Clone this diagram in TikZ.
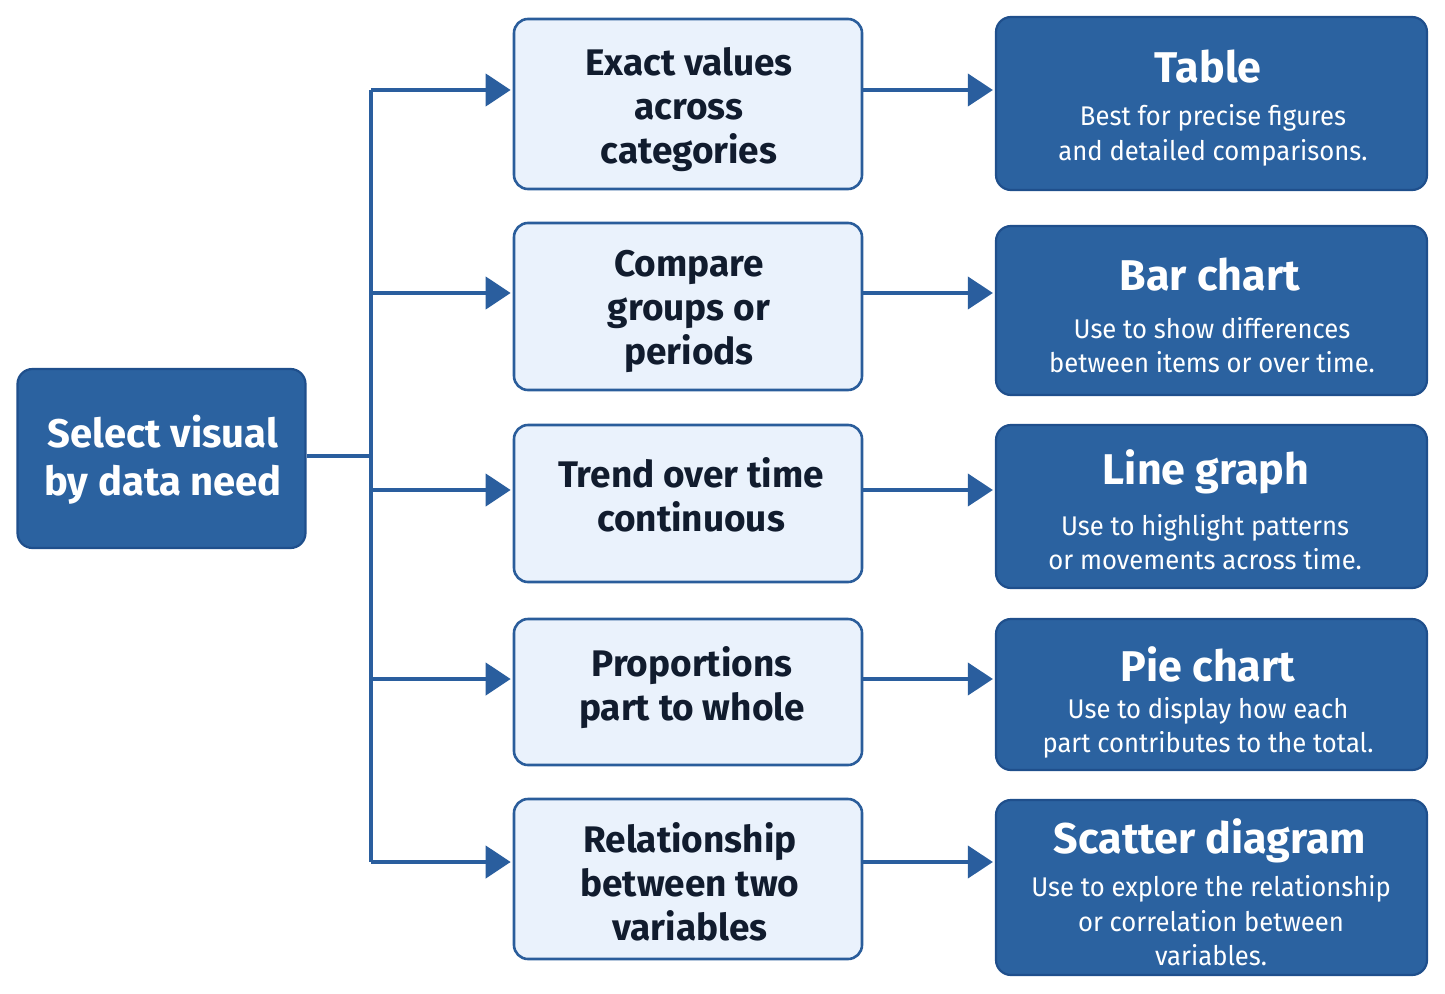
\documentclass[tikz,border=0pt]{standalone}
\usepackage{fontspec}
\setmainfont{Fira Sans}
\newfontfamily\subfont{Fira Sans}[FakeStretch=0.95]
\usetikzlibrary{arrows.meta}
\definecolor{darkfill}{HTML}{2B62A0}
\definecolor{darkedge}{HTML}{1F4F8C}
\definecolor{lightfill}{HTML}{EAF2FC}
\definecolor{lightedge}{HTML}{2A5D9B}
\definecolor{linkcol}{HTML}{2A5E9E}
\definecolor{inktext}{HTML}{111C2E}
\tikzset{
  darkbox/.style={draw=darkedge, line width=2.2pt, fill=darkfill, rounded corners=15pt, inner sep=0pt},
  lightbox/.style={draw=lightedge, line width=2.6pt, fill=lightfill, rounded corners=14pt, inner sep=0pt},
  midtext/.style={text=inktext, align=center, font=\fontsize{37}{44}\selectfont\bfseries, inner sep=0pt},
  lefttext/.style={text=white, align=center, font=\fontsize{40}{48}\selectfont\bfseries, inner sep=0pt},
  titletext/.style={text=white, align=center, font=\fontsize{43}{50}\selectfont\bfseries, inner sep=0pt},
  subtext/.style={text=white, align=center, font=\subfont\fontsize{27}{34.5}\selectfont, inner sep=0pt},
  link/.style={draw=linkcol, line width=4pt},
  arrowlink/.style={link, -{Triangle[length=25pt,width=32pt]}, shorten >=2pt}
}
\begin{document}
\begin{tikzpicture}[x=1pt,y=-1pt]
\useasboundingbox (0,0) rectangle (1445,993);

% left box
\node[darkbox, minimum width=288pt, minimum height=179pt] (src) at (161.5,458.5) {};
\node[lefttext] (srct) at (163,460) {Select visual\\by data need};

% trunk
\coordinate (jn) at (371,456);
\coordinate (ttop) at (371,90);
\coordinate (tbot) at (371,862);

% middle boxes
\node[lightbox, minimum width=348pt, minimum height=170pt] (m1) at (688,104) {};
\node[lightbox, minimum width=348pt, minimum height=167pt] (m2) at (688,306.5) {};
\node[lightbox, minimum width=348pt, minimum height=157pt] (m3) at (688,503.5) {};
\node[lightbox, minimum width=348pt, minimum height=146pt] (m4) at (688,692) {};
\node[lightbox, minimum width=348pt, minimum height=160pt] (m5) at (688,879) {};

\node[midtext] (m1t) at (689,110) {Exact values\\across\\categories};
\node[midtext] (m2t) at (689,311) {Compare\\groups or\\periods};
\node[midtext] (m3t) at (691,495) {Trend over time\\continuous};
\node[midtext] (m4t) at (692,688) {Proportions\\part to whole};
\node[midtext] (m5t) at (690,882) {Relationship\\between two\\variables};

% right boxes
\node[darkbox, minimum width=431pt, minimum height=173pt] (r1) at (1211.5,103.5) {};
\node[darkbox, minimum width=431pt, minimum height=169pt] (r2) at (1211.5,310.5) {};
\node[darkbox, minimum width=431pt, minimum height=163pt] (r3) at (1211.5,506.5) {};
\node[darkbox, minimum width=431pt, minimum height=151pt] (r4) at (1211.5,694.5) {};
\node[darkbox, minimum width=431pt, minimum height=175pt] (r5) at (1211.5,887.5) {};

\node[titletext] (r1h) at (1208,67) {Table};
\node[subtext] (r1s) at (1213,135.5) {Best for precise figures\\and detailed comparisons.};
\node[titletext] (r2h) at (1210,275) {Bar chart};
\node[subtext] (r2s) at (1212,345) {Use to show differences\\between items or over time.};
\node[titletext] (r3h) at (1206,472) {Line graph};
\node[subtext] (r3s) at (1205,542) {Use to highlight patterns\\or movements across time.};
\node[titletext] (r4h) at (1208,664) {Pie chart};
\node[subtext] (r4s) at (1208,728) {Use to display how each\\part contributes to the total.};
\node[titletext] (r5h) at (1210,841) {Scatter diagram};
\node[subtext] (r5s) at (1211,921) {Use to explore the relationship\\or correlation between\\variables.};

% connectors
\draw[link] (src.east |- jn) -- (jn);
\draw[link] (ttop) -- (tbot);

\foreach \i/\yy in {1/90,2/293,3/490,4/679,5/862}{
  \coordinate (b\i) at (371,\yy);
  \draw[arrowlink] (b\i) -- (m\i.west |- b\i);
  \draw[arrowlink] (m\i.east |- b\i) -- (r\i.west |- b\i);
}
\end{tikzpicture}
\end{document}
